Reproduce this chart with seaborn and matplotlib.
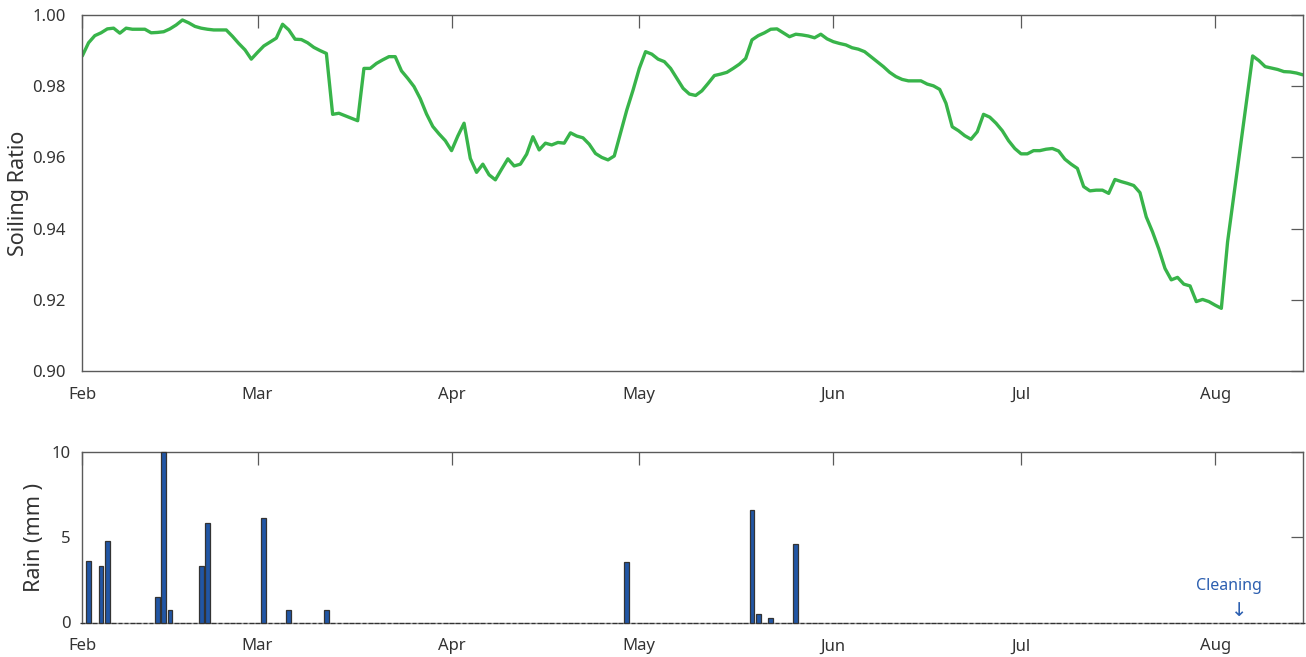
import numpy as np
import pandas as pd
import matplotlib
matplotlib.use("Agg")
import matplotlib.pyplot as plt
import matplotlib.dates as mdates
import seaborn as sns

# ---------------- data ----------------
start_date = "2023-02-01"
end_offset = 195  # days shown on the x axis (Feb 1 .. Aug 15)

soil_days = list(range(0, 183)) + [183, 187, 188, 189, 190, 191, 192, 193, 194, 195]
soil_ratio = [
    0.9885, 0.9922, 0.9942, 0.9950, 0.9961, 0.9963, 0.9949, 0.9963, 0.9960, 0.9960,
    0.9960, 0.9950, 0.9951, 0.9953, 0.9961, 0.9972, 0.9986, 0.9978, 0.9968, 0.9963,
    0.9960, 0.9958, 0.9958, 0.9958, 0.9940, 0.9920, 0.9902, 0.9876, 0.9895, 0.9913,
    0.9924, 0.9935, 0.9974, 0.9958, 0.9932, 0.9931, 0.9922, 0.9909, 0.9900, 0.9892,
    0.9721, 0.9724, 0.9717, 0.9710, 0.9703, 0.9850, 0.9850, 0.9864, 0.9874, 0.9883,
    0.9883, 0.9843, 0.9822, 0.9799, 0.9765, 0.9722, 0.9687, 0.9666, 0.9647, 0.9619,
    0.9660, 0.9696, 0.9597, 0.9558, 0.9581, 0.9551, 0.9537, 0.9567, 0.9596, 0.9576,
    0.9581, 0.9609, 0.9658, 0.9621, 0.9640, 0.9635, 0.9642, 0.9640, 0.9669, 0.9660,
    0.9655, 0.9637, 0.9611, 0.9600, 0.9593, 0.9604, 0.9668, 0.9733, 0.9789, 0.9850,
    0.9897, 0.9890, 0.9876, 0.9869, 0.9850, 0.9822, 0.9794, 0.9778, 0.9774, 0.9787,
    0.9808, 0.9830, 0.9834, 0.9839, 0.9850, 0.9862, 0.9878, 0.9930, 0.9942, 0.9950,
    0.9960, 0.9961, 0.9950, 0.9939, 0.9946, 0.9944, 0.9941, 0.9936, 0.9946, 0.9933,
    0.9925, 0.9920, 0.9916, 0.9908, 0.9904, 0.9897, 0.9883, 0.9869, 0.9855, 0.9839,
    0.9827, 0.9819, 0.9815, 0.9815, 0.9815, 0.9806, 0.9801, 0.9791, 0.9752, 0.9686,
    0.9675, 0.9661, 0.9651, 0.9672, 0.9721, 0.9713, 0.9696, 0.9675, 0.9647, 0.9625,
    0.9610, 0.9610, 0.9619, 0.9619, 0.9623, 0.9625, 0.9618, 0.9595, 0.9581, 0.9569,
    0.9518, 0.9506, 0.9508, 0.9508, 0.9499, 0.9538, 0.9532, 0.9527, 0.9521, 0.9501,
    0.9433, 0.9391, 0.9343, 0.9288, 0.9256, 0.9263, 0.9244, 0.9239, 0.9195, 0.9201,
    0.9195, 0.9185, 0.9176,
    0.9363, 0.9885, 0.9872, 0.9855, 0.9851, 0.9847, 0.9841, 0.9840, 0.9837, 0.9832,
]

rain_days = [1, 3, 4, 12, 13, 14, 19, 20, 29, 33, 39, 87, 107, 108, 110, 114]
rain_mm = [3.6, 3.3, 4.8, 1.5, 10.0, 0.75, 3.3, 5.85, 6.1, 0.75, 0.75,
           3.55, 6.6, 0.5, 0.25, 4.6]

soil_yticks = [0.90, 0.92, 0.94, 0.96, 0.98, 1.00]
rain_yticks = [0, 5, 10]
cleaning_label = "Cleaning"
cleaning_day = 184.9

# ---------------- frames ----------------
t0 = pd.Timestamp(start_date)
soil_df = pd.DataFrame({
    "x": mdates.date2num(t0 + pd.to_timedelta(soil_days, unit="D")),
    "ratio": soil_ratio,
})
all_days = np.arange(0, end_offset + 1)
rain_series = pd.Series(rain_mm, index=rain_days).reindex(all_days, fill_value=0.0)
rain_df = pd.DataFrame({
    "x": mdates.date2num(t0 + pd.to_timedelta(all_days, unit="D")),
    "rain": rain_series.values,
})

# ---------------- style ----------------
sns.set_style("white")
plt.rcParams["font.family"] = ["Noto Sans", "DejaVu Sans"]

fig = plt.figure(figsize=(13.06, 6.57), dpi=100)
W, H = 1306, 657
left_px, right_px = 82.3, 1302.7
ax1 = fig.add_axes([left_px / W, 1 - 371 / H, (right_px - left_px) / W, (371 - 15) / H])
ax2 = fig.add_axes([left_px / W, 1 - 622.5 / H, (right_px - left_px) / W, (622.5 - 452) / H])

sns.lineplot(data=soil_df, x="x", y="ratio", ax=ax1, color="#38b44a",
             linewidth=2.4, estimator=None)

sns.barplot(data=rain_df, x="x", y="rain", ax=ax2, native_scale=True,
            width=0.75, color="#2156a5", edgecolor="#333333", linewidth=0.9,
            errorbar=None, orient="x", saturation=1)
for p in ax2.patches:
    p.set_zorder(3)
    p.set_clip_on(False)

xmin = mdates.date2num(t0)
xmax = mdates.date2num(t0 + pd.Timedelta(days=end_offset))
spine_c = "#5a5a5a"
text_c = "#333333"

for ax in (ax1, ax2):
    ax.set_xlim(xmin, xmax)
    ax.xaxis.set_major_locator(mdates.MonthLocator())
    ax.xaxis.set_major_formatter(mdates.DateFormatter("%b"))
    ax.set_xlabel("")
    for s in ax.spines.values():
        s.set_visible(True)
        s.set_color(spine_c)
        s.set_linewidth(1.0)
    ax.tick_params(axis="both", direction="in", length=9, width=0.9,
                   color=spine_c, labelcolor=text_c, labelsize=12,
                   top=True, right=True)
    ax.tick_params(axis="x", pad=11.5)
    ax.grid(False)

ax2.spines["bottom"].set_color("#9a9a9a")

ax1.set_ylim(0.90, 1.00)
ax1.set_yticks(soil_yticks)
ax1.yaxis.set_major_formatter(matplotlib.ticker.FormatStrFormatter("%.2f"))
ax1.tick_params(axis="y", pad=12)
ax1.set_ylabel("Soiling Ratio", fontsize=15.5, color=text_c)
ax1.yaxis.set_label_coords(-0.0433, 0.5)

ax2.set_ylim(0, 10)
ax2.set_yticks(rain_yticks)
ax2.tick_params(axis="y", pad=8.5)
ax2.set_ylabel("Rain (mm )", fontsize=15.5, color=text_c)
ax2.yaxis.set_label_coords(-0.0306, 0.5)

xc = mdates.date2num(t0 + pd.Timedelta(days=183.2))
xa = mdates.date2num(t0 + pd.Timedelta(days=cleaning_day))
ax2.text(xc, 2.14, cleaning_label, ha="center", va="center",
         color="#2c5fb0", fontsize=11.5)
ax2.text(xa, 0.72, "\u2193", ha="center", va="center", color="#2c5fb0",
         fontsize=14, family=["DejaVu Sans"])

fig.savefig("out.png", dpi=100)
